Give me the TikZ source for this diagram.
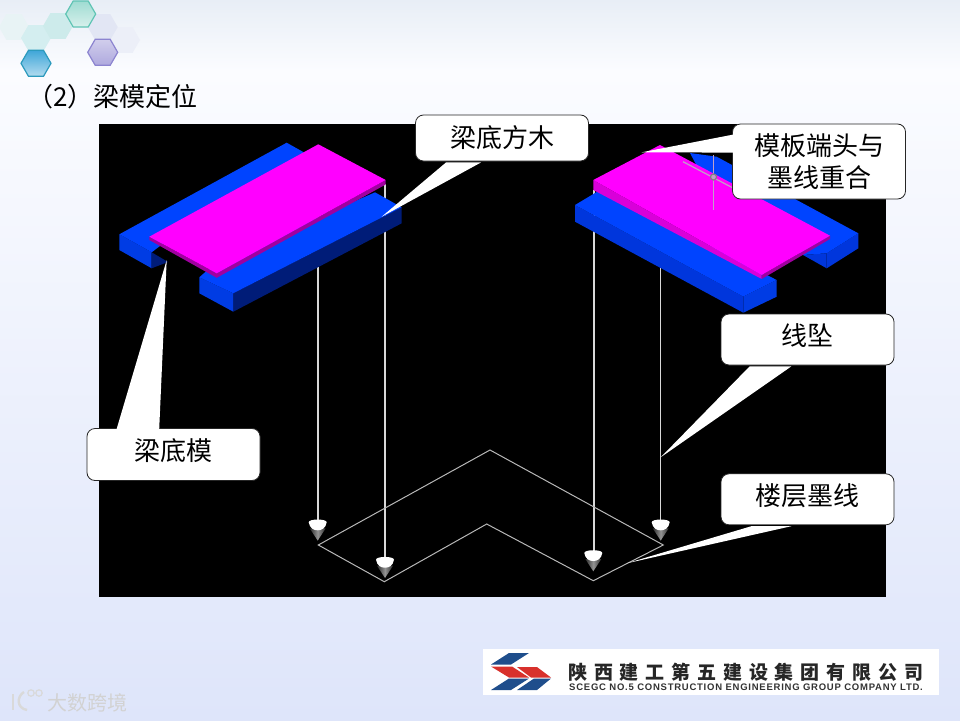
\documentclass[tikz,border=0pt]{standalone}
\usepackage{fontspec}
\setmainfont{Liberation Sans}
\newfontfamily\cjk{Noto Sans CJK SC}
\newfontfamily\cjklogo[LetterSpace=36]{Noto Sans CJK SC}
\newfontfamily\latinlogo[LetterSpace=8]{Liberation Sans}
\usetikzlibrary{positioning,calc,shapes.geometric}
\definecolor{bgtop}{HTML}{E8EEF6}
\definecolor{bgmid}{HTML}{FBFCFF}
\definecolor{bgbot}{HTML}{DEE5FA}
\definecolor{beamtop}{HTML}{0044FF}
\definecolor{beamend}{HTML}{003CE4}
\definecolor{beamnavy}{HTML}{001C78}
\definecolor{beamside}{HTML}{0036DC}
\definecolor{formtop}{HTML}{FF00FF}
\definecolor{formside}{HTML}{A000A0}
\definecolor{threadgray}{HTML}{D8D8D8}
\definecolor{markgray}{HTML}{C0A0C8}
\definecolor{logoblue}{HTML}{1F4E8C}
\definecolor{logored}{HTML}{D8312C}
\definecolor{hexteal}{HTML}{5FC4B4}
\definecolor{hexblue}{HTML}{3FA6D8}
\definecolor{hexpurple}{HTML}{8C84D0}
\definecolor{hexpalea}{HTML}{E8F3F5}
\definecolor{hexpaleb}{HTML}{D4EEF0}
\definecolor{hexpalec}{HTML}{CDEBEB}
\definecolor{hexpaled}{HTML}{ECEFF8}
\definecolor{hexpalee}{HTML}{E2E6F4}
\tikzset{
  calloutbox/.style={rounded corners=8pt, fill=white, draw=black!85, line width=0.8pt, minimum width=173pt, align=center, inner sep=0pt, font=\cjk\fontsize{26}{32}\selectfont},
  calloutwedge/.style={fill=white},
  threadline/.style={draw=threadgray, line width=1.3pt},
  hexcell/.style={regular polygon, regular polygon sides=6, minimum size=30pt, inner sep=0pt, line width=1.2pt},
  logobar/.style={fill=logoblue},
  logobarred/.style={fill=logored}
}
\begin{document}
\begin{tikzpicture}[x=1pt,y=-1pt]
\useasboundingbox (0,0) rectangle (960,720);
% slide background
\shade[top color=bgtop, bottom color=bgmid] (0,0) rectangle (960,70);
\shade[top color=bgmid, bottom color=bgbot] (0,70) rectangle (960,720);
% hexagons
\foreach \hn/\hx/\hy in {a/14/27, b/36/38, c/58/26, d/125/40, e/102.7/27}
  \node[hexcell, fill=hexpale\hn] (hex\hn) at (\hx,\hy) {};
\node[hexcell, top color=hexteal!60, bottom color=hexteal!25, draw=hexteal] (hexgreen) at (80.7,14) {};
\node[hexcell, top color=hexblue, bottom color=hexblue!40, draw=hexblue!70!teal] (hexsky) at (36,63.3) {};
\node[hexcell, top color=hexpurple!40, bottom color=hexpurple!70, draw=hexpurple] (hexviolet) at (102.7,52.3) {};
\node[anchor=west, inner sep=0pt, font=\cjk\fontsize{26}{30}\selectfont] (title) at (27,97) {（2）梁模定位};
% black drawing area
\fill[black] (99,124) rectangle (886,597);
% plumb lines
\draw[threadline] (318,266) -- (318,522);
\draw[threadline] (385,184) -- (385,560);
\draw[threadline] (594,190) -- (594,552);
\draw[threadline] (660.7,267) -- (660.7,522);
\foreach \bx/\by in {317.7/519.3, 385/556.7, 593.3/550, 660.7/519.3} {
  \fill[left color=gray!35!black, right color=gray!35!black, middle color=gray!85] (\bx-8,\by+9) -- (\bx,\by+21.3) -- (\bx+8,\by+9) -- cycle;
  \fill[white] (\bx-9,\by+3) .. controls (\bx-9,\by-0.7) and (\bx+9,\by-0.7) .. (\bx+9,\by+3) .. controls (\bx+8,\by+9) and (\bx+4,\by+11) .. (\bx,\by+11) .. controls (\bx-4,\by+11) and (\bx-8,\by+9) .. cycle;
}
% floor line
\draw[draw=threadgray!85!black, line width=1pt] (318.3,545) -- (490,450) -- (663.3,545) -- (593.3,580.7) -- (486.7,524) -- (384.3,581.7) -- cycle;
% left beam, back timber
\fill[beamend] (119.3,234.3) -- (151.7,252.3) -- (151.7,268.3) -- (119.3,250) -- cycle;
\fill[beamnavy] (151.7,252.3) -- (168,262) -- (151.7,268.3) -- cycle;
\fill[beamtop] (286.7,142.7) -- (305,153) -- (168,240) -- (151.7,252.3) -- (119.3,234.3) -- cycle;
% left beam, front timber
\fill[beamnavy] (233.3,293.3) -- (401.7,207.3) -- (401.7,223.3) -- (233.3,311.7) -- cycle;
\fill[beamend] (199.3,277.3) -- (233.3,293.3) -- (233.3,311.7) -- (199.3,293.3) -- cycle;
\fill[beamtop] (375,192.3) -- (401.7,207.3) -- (233.3,293.3) -- (199.3,277.3) -- (216.7,262) -- cycle;
% left bottom form
\fill[formside] (149.3,236.7) -- (216.7,273.3) -- (385.7,180) -- (385.7,184.5) -- (216.7,277.8) -- (149.3,240) -- cycle;
\fill[formtop] (318.3,144.3) -- (385.7,180) -- (216.7,273.3) -- (149.3,236.7) -- cycle;
% right beam, back timber
\fill[beamside] (803,255) -- (826.7,253.3) -- (826.7,268.3) -- cycle;
\fill[beamside] (826.7,253.3) -- (858.3,233.3) -- (858.3,248.3) -- (826.7,268.3) -- cycle;
\fill[beamtop] (690,153) -- (716.7,156.7) -- (858.3,233.3) -- (826.7,253.3) -- (803,255) -- (720,210) -- cycle;
% right beam, front timber
\fill[beamside] (575,205) -- (743.3,296.7) -- (743.3,312.7) -- (575,221.7) -- cycle;
\fill[beamend] (743.3,296.7) -- (776.7,280) -- (776.7,296.7) -- (743.3,312.7) -- cycle;
\fill[beamtop] (600,190) -- (776.7,280) -- (743.3,296.7) -- (575,205) -- cycle;
% right bottom form
\fill[formtop!85!black] (593.3,180) -- (761.7,275) -- (761.7,279) -- (593.3,190) -- cycle;
\fill[formside] (761.7,275) -- (830,235.7) -- (830,239) -- (761.7,279) -- cycle;
\fill[formtop] (593.3,180) -- (660,145) -- (830,235.7) -- (761.7,275) -- cycle;
% end mark
\draw[markgray, line width=1.2pt] (713.5,155) -- (713.5,210);
\draw[markgray, line width=1.2pt] (683,161.7) -- (733,188);
\draw[gray, line width=1.2pt, fill=markgray] (713.5,177) circle (3);
% callouts
\node[calloutbox, minimum height=46pt] (boxtimber) at (502,138) {梁底方木};
\node[calloutbox, minimum height=75pt] (boxend) at (819,161.5) {\raisebox{-2pt}{模板端头与}\\\raisebox{-2pt}{墨线重合}};
\node[calloutbox, minimum height=52pt, text depth=9pt] (boxform) at (173.5,454.5) {梁底模};
\node[calloutbox, minimum height=51pt, text depth=10pt] (boxbob) at (807.5,339.5) {线坠};
\node[calloutbox, minimum height=51pt, text depth=10pt, below=108pt of boxbob] (boxfloor) {楼层墨线};
\coordinate (tiptimber) at (381.7,216.7);
\coordinate (tipend) at (641.7,152.3);
\coordinate (tipform) at (166.7,260);
\coordinate (tipbob) at (660.7,457.3);
\coordinate (tipfloor) at (626.7,563.3);
\fill[calloutwedge] (tiptimber) -- ($(boxtimber.south west)+(31,1)$) -- ($(boxtimber.south west)+(66,1)$) -- cycle;
\fill[calloutwedge] (tipend) -- ($(boxend.north west)+(1,11)$) -- ($(boxend.north west)+(1,29)$) -- cycle;
\fill[calloutwedge] (tipform) -- ($(boxform.north west)+(30,1)$) -- ($(boxform.north west)+(72.6,1)$) -- cycle;
\fill[calloutwedge] (tipbob) -- ($(boxbob.south west)+(29,1)$) -- ($(boxbob.south west)+(70.7,1)$) -- cycle;
\fill[calloutwedge] (tipfloor) -- ($(boxfloor.south west)+(30.7,1)$) -- ($(boxfloor.south west)+(70.7,1)$) -- cycle;
% company logo
\fill[white] (483,649) rectangle (939,695);
\fill[logobar] (491,664.5) -- (509,653) -- (529,653) -- (511,664.5) -- cycle;
\fill[logobarred] (491,666.5) -- (512,666.5) -- (529,677.5) -- (509,677.5) -- cycle;
\fill[logobarred] (517,667) -- (537,667) -- (551,677.5) -- (531,677.5) -- cycle;
\fill[logobar] (491,690) -- (509,678.5) -- (529,678.5) -- (511,690) -- cycle;
\fill[logobar] (517,690) -- (534,678.5) -- (551,678.5) -- (537,690) -- cycle;
\node[anchor=west, inner sep=0pt, font=\cjklogo\bfseries\fontsize{19}{21}\selectfont, text=black!85] (logocn) at (568,672.5) {陕西建工第五建设集团有限公司};
\node[anchor=west, inner sep=0pt, font=\latinlogo\bfseries\fontsize{9.5}{11}\selectfont, text=black!80] (logoen) at (569,687) {SCEGC NO.5 CONSTRUCTION ENGINEERING GROUP COMPANY LTD.};
% watermark
\draw[white!70!gray, line width=2.4pt] (13,694) -- (13,710);
\draw[white!70!gray, line width=2.4pt] (24,692) .. controls (17,696) and (16,708) .. (27,710);
\draw[white!70!gray, line width=1.2pt] (31,693) circle (3.2);
\draw[white!70!gray, line width=1.2pt] (39,693) circle (3.2);
\node[anchor=west, inner sep=0pt, font=\cjk\fontsize{20}{22}\selectfont, text=white!65!gray] (mark) at (47,703) {大数跨境};
\end{tikzpicture}
\end{document}
